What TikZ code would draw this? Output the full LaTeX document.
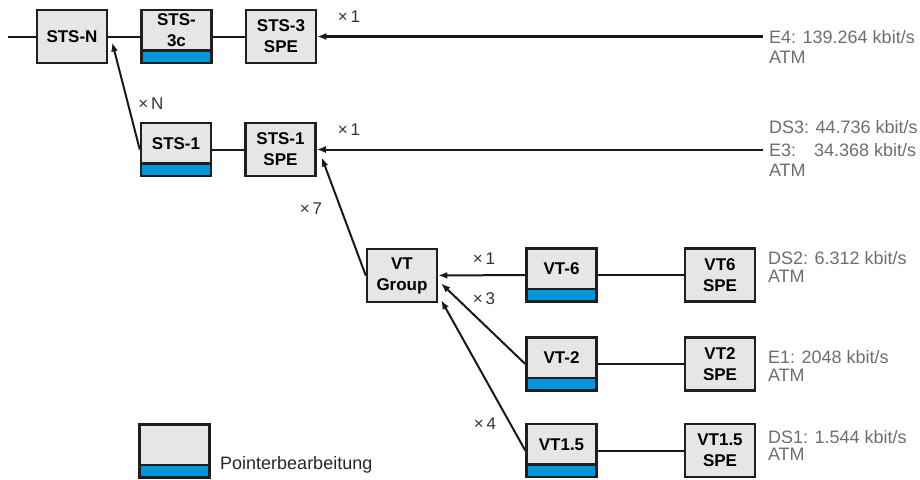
\documentclass[tikz,border=0pt]{standalone}
\usepackage{fontspec}
\setmainfont{Liberation Sans}
\usetikzlibrary{positioning, arrows.meta}

\definecolor{boxgray}{HTML}{E6E6E6}
\definecolor{ptrblue}{HTML}{0096DC}
\definecolor{rategray}{HTML}{6E6E6E}

\begin{document}
\begin{tikzpicture}[x=1pt, y=-1pt, >={Latex[length=9pt,width=7pt]},
	box/.style = {draw=black!88, line width=2.5pt, fill=boxgray, minimum width=70pt, minimum height=53pt,
		inner sep=0pt, align=center, font=\fontsize{17}{21}\selectfont\bfseries},
	ptrbox/.style = {box, path picture={
		\fill[ptrblue] (path picture bounding box.south west) rectangle ([yshift=12.5pt]path picture bounding box.south east);
		\draw[black!88, line width=2.5pt] ([yshift=12.5pt]path picture bounding box.south west) -- ([yshift=12.5pt]path picture bounding box.south east);}},
	boxtext/.style = {inner sep=0pt, align=center, yshift=6pt, font=\fontsize{17}{21}\selectfont\bfseries},
	rate/.style = {anchor=west, inner sep=0pt, outer sep=6pt, text height=13pt, text depth=0pt,
		text=rategray, font=\fontsize{18}{21}\selectfont},
	times/.style = {inner sep=0pt, text height=12pt, text depth=0pt, text=black!80, font=\fontsize{17}{20}\selectfont},
	link/.style = {draw=black!90, line width=2pt}]
	\useasboundingbox (0,0) rectangle (920,479);

	% SONET/SDH Zweige
	\node[box] (stsn) at (72,36.5) {STS-N};
	\node[ptrbox, label={[boxtext]center:STS-\\3c}] (sts3c) [right=32pt of stsn] {};
	\node[box] (sts3spe) [right=32pt of sts3c] {STS-3\\SPE};
	\node[ptrbox, label={[boxtext]center:STS-1}] (sts1) at (176,149.5) {};
	\node[box] (sts1spe) [right=32pt of sts1] {STS-1\\SPE};
	\node[box] (vtgroup) at (402,275.5) {VT\\Group};
	\node[ptrbox, label={[boxtext]center:VT-6}] (vt6) at (561.5,275) {};
	\node[box] (vt6spe) at (720,275) {VT6\\SPE};
	\node[ptrbox, label={[boxtext]center:VT-2}] (vt2) at (561.5,364) {};
	\node[box] (vt2spe) at (720,364) {VT2\\SPE};
	\node[ptrbox, label={[boxtext]center:VT1.5}] (vt15) at (561.5,450.5) {};
	\node[box] (vt15spe) at (720,450.5) {VT1.5\\SPE};
	\coordinate (in) at (8,36.5);

	% Nutzlasten
	\node[rate] (e4) at (763,36.5) {E4: 139.264 kbit/s};
	\node[rate] (e4atm) at (763,57) {ATM};
	\node[rate] (ds3) at (763,127) {DS3: 44.736 kbit/s};
	\node[rate] (e3) at (763,149.5) {\rlap{E3:}\phantom{DS3:} 34.368 kbit/s};
	\node[rate] (e3atm) at (763,170) {ATM};
	\node[rate] (ds2) at (762,258) {DS2: 6.312 kbit/s};
	\node[rate] (ds2atm) at (762,276) {ATM};
	\node[rate] (e1) at (762,357) {E1: 2048 kbit/s};
	\node[rate] (e1atm) at (762,375) {ATM};
	\node[rate] (ds1) at (762,437) {DS1: 1.544 kbit/s};
	\node[rate] (ds1atm) at (762,454) {ATM};

	% Multiplexfaktoren
	\node[times] (xn) at (151,103) {×\,N};
	\node[times] (x1a) at (349,16) {×\,1};
	\node[times] (x1b) at (349,129) {×\,1};
	\node[times] (x7) at (311,208) {×\,7};
	\node[times] (x1c) at (484,258) {×\,1};
	\node[times] (x3) at (484,298) {×\,3};
	\node[times] (x4) at (485,423) {×\,4};

	% Legende
	\node[ptrbox] (legend) at (174.5,451) {};
	\node[anchor=west, inner sep=0pt, text height=13pt, text depth=0pt, text=black!85,
		font=\fontsize{18}{21}\selectfont] (legendtxt) at (220,463) {Pointerbearbeitung};

	\draw[link] (in) -- (stsn);
	\draw[link] (stsn) -- (sts3c);
	\draw[link] (sts3c) -- (sts3spe);
	\draw[link] (sts1) -- (sts1spe);
	\draw[link, ->] (sts1.west) -- ([xshift=4pt,yshift=-6pt]stsn.east);
	\draw[link, ->, line width=2.5pt] (e4) -- (sts3spe);
	\draw[link, ->] (e3) -- (sts1spe);
	\draw[link, ->] (vtgroup.west) -- ([xshift=5pt,yshift=-8pt]sts1spe.east);
	\draw[link, ->] (vt6) -- (vtgroup);
	\draw[link, ->] (vt2.west) -- ([xshift=3pt,yshift=-8pt]vtgroup.east);
	\draw[link, ->] (vt15.west) -- ([xshift=3pt,yshift=3pt]vtgroup.south east);
	\draw[link] (vt6) -- (vt6spe);
	\draw[link] (vt2) -- (vt2spe);
	\draw[link] (vt15) -- (vt15spe);
\end{tikzpicture}
\end{document}
